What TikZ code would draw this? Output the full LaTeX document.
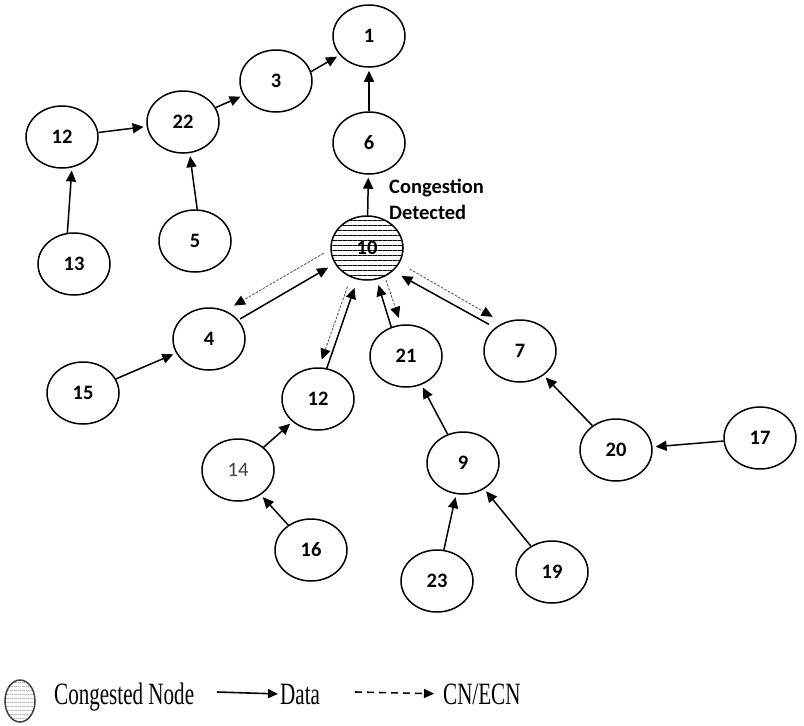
\documentclass[tikz,border=0pt]{standalone}
\usepackage{fontspec}
\newfontfamily\calfont{Carlito}
\newfontfamily\legfont{Liberation Serif}
\usetikzlibrary{shapes.geometric, arrows.meta, patterns.meta}

\newcommand{\legtext}[1]{{\legfont\fontsize{31}{31}\selectfont\scalebox{.68}[1]{#1}}}

\tikzset{
  sensor/.style={ellipse, draw, line width=1.5pt, minimum width=72pt, minimum height=62pt,
    inner sep=0pt, font=\calfont\bfseries\fontsize{20.5}{20.5}\selectfont},
  congested/.style={sensor, minimum height=64pt, pattern={Lines[angle=0,distance=5pt,line width=1pt]}},
  data/.style={-{Triangle[length=11pt,width=10pt]}, line width=1.5pt, shorten >=3pt},
  cn/.style={-{Triangle[length=11pt,width=10pt,color=black]}, line width=.9pt,
    dash pattern=on 2.5pt off 1.5pt, draw=black!65},
  legtxt/.style={anchor=base west, inner sep=0pt}
}

\begin{document}
\begin{tikzpicture}[x=1pt, y=-1pt]
  \useasboundingbox (0,0) rectangle (804,726);

  \node[sensor] (n1) at (369,36) {1};
  \node[sensor] (n3) at (276,81) {3};
  \node[sensor] (n22) at (183,122) {22};
  \node[sensor] (n12a) at (62,137) {12};
  \node[sensor] (n13) at (74,264) {13};
  \node[sensor] (n5) at (195,241) {5};
  \node[sensor] (n6) at (369,143) {6};
  \node[congested] (n10) at (367,248) {10};
  \node[sensor] (n4) at (209,339) {4};
  \node[sensor] (n15) at (83,393) {15};
  \node[sensor] (n12b) at (318,399) {12};
  \node[sensor] (n21) at (406,356) {21};
  \node[sensor] (n7) at (520,351) {7};
  \node[sensor, font=\calfont\fontsize{20.5}{20.5}\selectfont, text=black!75] (n14) at (238,470) {14};
  \node[sensor] (n16) at (311,550) {16};
  \node[sensor] (n9) at (463,463) {9};
  \node[sensor] (n23) at (437,581) {23};
  \node[sensor] (n19) at (552,572) {19};
  \node[sensor] (n20) at (616,450) {20};
  \node[sensor] (n17) at (760,438) {17};

  \node[anchor=north west, align=left, inner sep=0pt, font=\calfont\bfseries\fontsize{20.5}{26}\selectfont]
    (detect) at (389,179) {Congestion\\Detected};

  % data towards the sink
  \draw[data] (n3.15) -- (n1.213);
  \draw[data] (n22) -- (n3);
  \draw[data] (n12a) -- (n22);
  \draw[data] (n13.102) -- (n12a.288);
  \draw[data] (n5.86) -- (n22.282);
  \draw[data] (n6) -- (n1);
  \draw[data] (n10) -- (n6);
  \draw[data] (n15) -- (n4);
  \draw[data] (n14) -- (n12b);
  \draw[data] (n16) -- (n14);
  \draw[data] (n9) -- (n21);
  \draw[data] (n23) -- (n9);
  \draw[data] (n19) -- (n9);
  \draw[data] (n20) -- (n7);
  \draw[data] (n17) -- (n20);

  % children of 10, with the notification going back
  \draw[data, shorten <=2pt, shorten >=8pt] (n4.33) -- (n10.206);
  \draw[cn, shorten <=8pt, shorten >=10pt] (n10.182) -- (n4.60);
  \draw[data, shorten >=9pt] (n12b.74) -- (n10.253);
  \draw[cn, shorten <=10pt, shorten >=8pt] (n10.241) -- (n12b.88);
  \draw[data, shorten >=6pt] (n21.117) -- (n10.287);
  \draw[cn, shorten <=4pt, shorten >=7pt] (n10.302) -- (n21.99);
  \draw[data, shorten <=7pt, shorten >=10pt] (n7.137) -- (n10.318);
  \draw[cn, shorten <=12pt, shorten >=12pt] (n10.335) -- (n7.121);

  % legend
  \node[ellipse, draw=black!75, line width=1.5pt, minimum width=30pt, minimum height=42pt, inner sep=0pt,
    pattern={Lines[angle=0,distance=4pt,line width=.8pt]}, pattern color=black!40] (cnode) at (20,701) {};
  \node[legtxt] (cntext) at (54,704) {\legtext{Congested Node}};
  \node[legtxt] (datatext) at (280,704) {\legtext{Data}};
  \node[legtxt] (ecntext) at (443,704) {\legtext{CN/ECN}};
  \coordinate (d1) at (217,692);
  \coordinate (e1) at (355,692);
  \draw[-{Triangle[length=10pt,width=9pt]}, line width=1.6pt, shorten >=2pt] (d1) -- (datatext.west);
  \draw[-{Triangle[length=10pt,width=9pt]}, line width=1.6pt, dash pattern=on 7pt off 5pt, shorten >=9pt] (e1) -- (ecntext.west);
\end{tikzpicture}
\end{document}
